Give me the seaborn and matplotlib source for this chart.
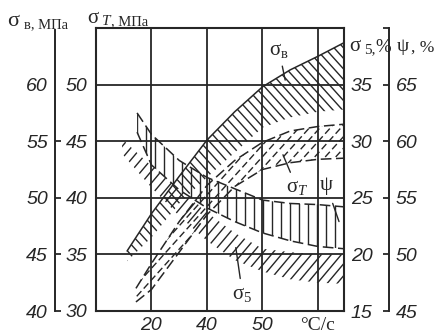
import numpy as np
import matplotlib
matplotlib.use('Agg')
import matplotlib.pyplot as plt
from matplotlib import font_manager
from matplotlib.collections import LineCollection
import seaborn as sns

# ---------------- data ----------------
# x: position along the cooling-rate axis (grid units)
x_ticks = [1, 2, 3, 4]
x_tick_labels = ['20', '40', '50', '°C/c']

# sigma_v (ultimate strength) band, MPa
sb_x = [0.56, 1.0, 1.5, 2.0, 2.5, 3.0, 3.5, 4.0, 4.47]
sb_hi = [45.3, 48.6, 51.9, 55.1, 57.6, 59.8, 61.3, 62.5, 63.7]
sb_lo = [44.4, 46.5, 49.5, 51.8, 54.0, 56.2, 57.1, 57.6, 57.8]

# sigma_T (yield strength) band, MPa
st_x = [0.72, 1.0, 1.5, 2.0, 2.5, 3.0, 3.5, 4.0, 4.47]
st_hi = [32.0, 34.2, 37.9, 41.1, 43.3, 44.9, 45.9, 46.3, 46.5]
st_lo = [30.8, 31.9, 35.2, 38.5, 41.0, 42.5, 43.1, 43.4, 43.5]

# psi (reduction of area) band, %
psi_x = [0.74, 1.0, 1.5, 2.0, 2.5, 3.0, 3.5, 4.0, 4.47]
psi_hi = [62.5, 60.6, 58.3, 56.8, 55.8, 54.8, 54.5, 54.4, 54.2]
psi_lo = [60.8, 57.9, 55.7, 54.1, 52.9, 51.9, 51.2, 50.7, 50.5]

# delta_5 (elongation) band, %
d5_x = [0.47, 1.0, 1.5, 2.0, 2.5, 3.0, 3.5, 4.0, 4.47]
d5_hi = [30.2, 27.8, 25.7, 23.7, 21.9, 20.5, 20.2, 20.0, 20.0]
d5_lo = [28.9, 25.9, 23.4, 21.2, 19.5, 18.5, 17.8, 17.5, 17.4]

# axis scales
st_ticks = [30, 35, 40, 45, 50, 55]
sb_ticks = [40, 45, 50, 55, 60, 65]
d5_ticks = [15, 20, 25, 30, 35, 40]
psi_ticks = [45, 50, 55, 60, 65, 70]

# ---------------- style ----------------
sns.set_theme(style='white')
names = {f.name for f in font_manager.fontManager.ttflist}
num_family = 'Liberation Sans Narrow' if 'Liberation Sans Narrow' in names else 'Liberation Sans'
plt.rcParams['font.family'] = ['Liberation Serif', 'DejaVu Serif']
plt.rcParams['mathtext.fontset'] = 'custom'
plt.rcParams['mathtext.rm'] = 'Liberation Serif'
plt.rcParams['mathtext.it'] = 'Liberation Serif:italic'
INK = '#262626'

W, H = 436, 334
AX_L, AX_B, AX_W, AX_H = 96, 311, 248, 283   # pixel frame of the plot area
XMAX = 4.47
fig = plt.figure(figsize=(W / 100, H / 100), dpi=100)
ax = fig.add_axes([AX_L / W, 1 - AX_B / H, AX_W / W, AX_H / H])
ax_b = ax.twinx()
ax_s = ax.twinx()
ax_p = ax.twinx()

ax.set_xlim(0, XMAX)
ax.set_ylim(st_ticks[0], st_ticks[-1])
ax_b.set_ylim(sb_ticks[0], sb_ticks[-1])
ax_s.set_ylim(d5_ticks[0], d5_ticks[-1])
ax_p.set_ylim(psi_ticks[0], psi_ticks[-1])
PX = AX_W / XMAX                              # pixels per x unit
PY = AX_H / (st_ticks[-1] - st_ticks[0])      # pixels per y unit (same on all scales)

# frame and grid
for sp in ax.spines.values():
    sp.set_linewidth(1.5)
    sp.set_color(INK)
ax.set_xticks(x_ticks)
ax.set_xticklabels(x_tick_labels)
ax.set_yticks(st_ticks)
ax.set_yticklabels([str(t) for t in st_ticks[:-1]] + [''])
ax.grid(True, color=INK, linewidth=1.3)
ax.tick_params(axis='x', length=0, pad=4, labelsize=14, colors=INK)
ax.tick_params(axis='y', length=0, pad=6, labelsize=14, colors=INK)
for lab in ax.get_xticklabels()[:-1] + ax.get_yticklabels():
    lab.set_family(num_family)
    lab.set_style('italic')
ax.get_xticklabels()[-1].set_family('Liberation Serif')
ax.get_xticklabels()[-1].set_fontsize(14)

for a in (ax_b, ax_s, ax_p):
    for sp in a.spines.values():
        sp.set_visible(False)
    a.tick_params(axis='x', bottom=False, top=False, labelbottom=False, labeltop=False)
    a.grid(False)

# sigma_v axis (far left)
ax_b.yaxis.set_ticks_position('left')
ax_b.spines['left'].set_visible(True)
ax_b.spines['left'].set_position(('outward', 29.5))
ax_b.spines['left'].set_bounds(sb_ticks[0], 64.8)
ax_b.spines['left'].set_linewidth(1.4)
ax_b.spines['left'].set_color(INK)
ax_b.set_yticks(sb_ticks[:-1])
ax_b.set_yticklabels([str(t) for t in sb_ticks[:-1]])
ax_b.tick_params(axis='y', direction='in', length=4, width=1.3, pad=5, labelsize=14, colors=INK)
for t in ax_b.yaxis.get_major_ticks():
    if abs(t.get_loc() - 60) < 1e-6:
        t.tick1line.set_visible(False)

# sigma_5 axis (right of frame, no spine)
ax_s.yaxis.set_ticks_position('right')
ax_s.set_yticks(d5_ticks)
ax_s.set_yticklabels([str(t) for t in d5_ticks[:-1]] + [''])
ax_s.tick_params(axis='y', length=0, pad=5, labelsize=14, colors=INK)

# psi axis (far right)
ax_p.yaxis.set_ticks_position('right')
ax_p.spines['right'].set_visible(True)
ax_p.spines['right'].set_position(('outward', 32.4))
ax_p.spines['right'].set_linewidth(1.4)
ax_p.spines['right'].set_color(INK)
ax_p.set_yticks(psi_ticks)
ax_p.set_yticklabels([str(t) for t in psi_ticks[:-1]] + [''])
ax_p.tick_params(axis='y', direction='in', length=4, width=1.3, pad=5, labelsize=14, colors=INK)

for a in (ax_b, ax_s, ax_p):
    for lab in a.get_yticklabels():
        lab.set_family(num_family)
        lab.set_style('italic')


# ---------------- hatched bands ----------------
def hatch_band(a, xs, lo, hi, angle, spacing_px, ls='solid', lw=1.0):
    """Fill a band with hatch lines (angle in display degrees) clipped to it."""
    poly = a.fill_between(xs, lo, hi, facecolor='none', edgecolor='none', linewidth=0)
    y0, y1 = a.get_ylim()
    segs = []
    if angle == 90:
        for xv in np.arange(spacing_px / PX * 0.5, XMAX, spacing_px / PX):
            segs.append([(xv, y0), (xv, y1)])
    else:
        m = np.tan(np.radians(angle)) * PX / PY
        dc = abs(m) * spacing_px / PX
        cands = [y0 - m * 0, y0 - m * XMAX, y1 - m * 0, y1 - m * XMAX]
        for c in np.arange(min(cands), max(cands), dc):
            segs.append([(0, c), (XMAX, c + m * XMAX)])
    lc = LineCollection(segs, colors=INK, linewidths=lw, linestyles=[ls])
    a.add_collection(lc)
    lc.set_clip_path(poly.get_paths()[0], a.transData)
    return poly


DASH = (0, (7, 3))

# sigma_v band
hatch_band(ax_b, sb_x, sb_lo, sb_hi, -48, 9.5)
sns.lineplot(x=sb_x, y=sb_hi, ax=ax_b, color=INK, linewidth=1.1, sort=False, estimator=None)

# psi band
hatch_band(ax_p, psi_x, psi_lo, psi_hi, 90, 9.0)
for e in (psi_hi, psi_lo):
    sns.lineplot(x=psi_x, y=e, ax=ax_p, color=INK, linewidth=1.1, linestyle=DASH,
                 sort=False, estimator=None)

# sigma_5 band
hatch_band(ax_s, d5_x, d5_lo, d5_hi, 50, 10.0)

# sigma_T band (dashed hatch and dashed outline)
hatch_band(ax, st_x, st_lo, st_hi, 48, 10.5, ls=(0, (5, 2.5)))
for e in (st_hi, st_lo):
    sns.lineplot(x=st_x, y=e, ax=ax, color=INK, linewidth=1.1, linestyle=DASH,
                 sort=False, estimator=None)

# ---------------- curve labels ----------------
lab_kw = dict(fontsize=15, color=INK, ha='center', va='center',
              arrowprops=dict(arrowstyle='-', color=INK, lw=1.0, shrinkA=2, shrinkB=0))
ax.annotate(r'$\mathrm{σ}_{\mathrm{в}}$', xy=(3.41, 50.4), xytext=(3.30, 53.0), **lab_kw)
ax.annotate(r'$\mathrm{σ}_{T}$', xy=(3.37, 43.8), xytext=(3.62, 40.9), **lab_kw)
ax.annotate(r'$\mathrm{ψ}$', xy=(4.38, 37.9), xytext=(4.16, 41.0), **lab_kw)
ax.annotate(r'$\mathrm{σ}_{5}$', xy=(2.52, 35.6), xytext=(2.64, 31.5), **lab_kw)


# ---------------- axis titles ----------------
def ftext(x, y, s, **kw):
    fig.text(x / W, 1 - y / H, s, color=INK, va='baseline', ha='left', **kw)


ftext(7, 26, r'$\mathrm{σ}$', fontsize=16)
ftext(24, 28, 'в, МПа', fontsize=10.5)
ftext(87, 23, r'$\mathrm{σ}$', fontsize=15)
ftext(101, 25, r'$\mathit{T}$', fontsize=11)
ftext(111, 25, ', МПа', fontsize=10.5)
ftext(349, 51, r'$\mathrm{σ}$', fontsize=15)
ftext(364, 53, '5,', fontsize=11)
ftext(375, 52, '%', fontsize=13.5)
ftext(396, 51, r'$\mathrm{ψ}$', fontsize=14)
ftext(411, 52, ', %', fontsize=12.5)

fig.savefig('out.png', dpi=100)
